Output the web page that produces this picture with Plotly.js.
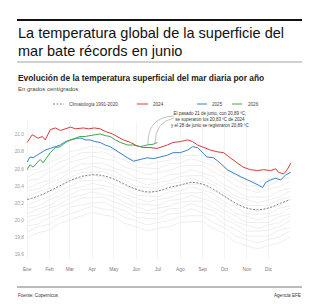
<!DOCTYPE html>
<html><head><meta charset="utf-8">
<script src="https://cdn.plot.ly/plotly-3.0.1.min.js"></script>
<style>html,body{margin:0;padding:0;background:#fff;}#chart{width:320px;height:304px;}</style>
</head><body><div id="chart"></div>
<script>
// ---- data ----
const monthLabels = ["Ene","Feb","Mar","Apr","May","Jun","Jul","Ago","Sep","Oct","Nov","Dic"];
const monthDays = [0,31,59,90,120,151,181,212,243,273,304,334];
const yTicks = [19.6,19.8,20.0,20.2,20.4,20.6,20.8,21.0];

const climDays = [0,15,31,45,59,75,90,105,120,135,151,166,181,196,212,227,243,258,273,288,304,319,334,349,364];
const climVals = [20.24,20.28,20.34,20.40,20.46,20.51,20.53,20.52,20.48,20.42,20.36,20.33,20.34,20.38,20.41,20.44,20.42,20.36,20.28,20.20,20.14,20.12,20.14,20.19,20.24];

const days2024 = [0,7,11,15,21,25,32,39,46,53,60,67,73,78,85,93,101,108,118,125,133,143,152,161,170,180,184,194,202,212,222,229,236,244,254,263,272,281,291,299,309,319,327,337,344,348,355,360,365];
const vals2024 = [20.91,21.00,20.98,20.96,20.98,20.94,21.06,21.08,21.05,21.07,21.09,21.07,21.08,21.08,21.07,21.08,21.07,21.04,21.01,20.98,20.94,20.91,20.87,20.85,20.85,20.84,20.85,20.88,20.91,20.92,20.94,20.92,20.88,20.85,20.82,20.80,20.79,20.73,20.67,20.62,20.59,20.58,20.59,20.58,20.60,20.56,20.54,20.59,20.67];

const days2025 = [0,4,8,14,18,25,32,39,46,53,60,69,76,80,87,94,101,108,115,122,129,139,147,157,166,175,184,194,202,212,222,229,236,243,249,258,267,277,285,295,305,313,320,326,330,337,344,351,358,365];
const vals2025 = [20.68,20.74,20.73,20.76,20.79,20.82,20.84,20.86,20.88,20.92,20.94,20.96,20.96,20.94,20.94,20.92,20.91,20.88,20.86,20.82,20.79,20.73,20.69,20.71,20.73,20.72,20.74,20.76,20.79,20.79,20.82,20.86,20.85,20.79,20.74,20.73,20.67,20.59,20.55,20.51,20.47,20.44,20.41,20.38,20.44,20.47,20.49,20.47,20.53,20.56];

const days2026 = [0,4,8,14,18,22,28,32,39,46,53,60,67,73,80,87,94,101,108,115,122,129,139,147,157,166,175,180];
const vals2026 = [20.59,20.65,20.62,20.67,20.71,20.67,20.74,20.79,20.85,20.86,20.91,20.94,20.96,20.98,20.98,20.99,21.00,21.01,20.99,20.98,20.94,20.91,20.88,20.88,20.86,20.88,20.89,20.91];

// past years (faint background lines), semi-monthly values on climDays
const pastYears = [
  [19.79,19.85,19.88,19.96,20.00,20.05,20.09,20.06,20.04,19.96,19.92,19.87,19.90,19.92,19.97,19.98,19.98,19.90,19.84,19.74,19.70,19.66,19.70,19.73,19.80],
  [19.86,19.92,19.95,20.03,20.07,20.12,20.16,20.13,20.11,20.03,19.99,19.94,19.97,19.99,20.04,20.05,20.05,19.97,19.91,19.81,19.77,19.73,19.77,19.80,19.87],
  [19.93,19.95,20.03,20.06,20.15,20.18,20.20,20.21,20.15,20.11,20.03,20.02,20.01,20.07,20.08,20.13,20.09,20.05,19.95,19.89,19.81,19.81,19.81,19.88,19.91],
  [19.97,20.03,20.07,20.15,20.19,20.26,20.26,20.27,20.21,20.17,20.09,20.08,20.07,20.13,20.14,20.19,20.15,20.11,20.01,19.95,19.87,19.87,19.88,19.92,19.99],
  [20.04,20.06,20.14,20.18,20.26,20.29,20.33,20.30,20.28,20.20,20.16,20.11,20.14,20.16,20.21,20.22,20.22,20.14,20.08,19.98,19.94,19.90,19.94,19.97,20.04],
  [20.07,20.13,20.17,20.25,20.29,20.36,20.36,20.37,20.31,20.27,20.19,20.18,20.17,20.23,20.24,20.29,20.25,20.21,20.11,20.05,19.97,19.97,19.97,20.04,20.07],
  [20.14,20.16,20.24,20.28,20.36,20.39,20.43,20.40,20.38,20.30,20.26,20.21,20.24,20.26,20.31,20.32,20.32,20.24,20.18,20.08,20.04,20.00,20.04,20.07,20.14],
  [20.17,20.23,20.27,20.35,20.39,20.46,20.46,20.47,20.41,20.37,20.29,20.28,20.27,20.33,20.34,20.39,20.35,20.31,20.21,20.15,20.07,20.07,20.07,20.14,20.17],
  [20.24,20.26,20.34,20.38,20.46,20.49,20.53,20.50,20.48,20.40,20.36,20.31,20.34,20.36,20.41,20.42,20.42,20.34,20.28,20.18,20.14,20.10,20.14,20.17,20.24],
  [20.27,20.33,20.37,20.45,20.49,20.56,20.56,20.57,20.51,20.47,20.39,20.38,20.37,20.43,20.44,20.49,20.45,20.41,20.31,20.25,20.17,20.17,20.17,20.24,20.27],
  [20.34,20.36,20.44,20.48,20.56,20.59,20.63,20.60,20.58,20.50,20.46,20.41,20.44,20.46,20.51,20.52,20.52,20.44,20.38,20.28,20.24,20.20,20.24,20.27,20.34],
  [20.37,20.43,20.47,20.55,20.59,20.66,20.66,20.67,20.61,20.57,20.49,20.48,20.47,20.53,20.54,20.59,20.55,20.51,20.41,20.35,20.27,20.27,20.27,20.34,20.37],
  [20.46,20.48,20.56,20.60,20.68,20.71,20.75,20.72,20.70,20.62,20.58,20.53,20.56,20.58,20.63,20.64,20.64,20.56,20.50,20.40,20.36,20.32,20.36,20.39,20.46],
  [20.50,20.56,20.60,20.68,20.72,20.79,20.79,20.80,20.74,20.70,20.62,20.61,20.60,20.66,20.67,20.72,20.68,20.64,20.54,20.48,20.40,20.40,20.40,20.47,20.50],
  [20.58,20.60,20.68,20.72,20.80,20.83,20.87,20.84,20.82,20.74,20.70,20.65,20.68,20.70,20.75,20.76,20.76,20.68,20.62,20.52,20.48,20.44,20.48,20.51,20.58]
];

// ---- layout helpers (pixel -> paper) ----
const W=320,H=304,L=25,R=27,T=122,B=44;
const PW=W-L-R, PH=H-T-B;
const px = v => (v-L)/PW;
const py = v => (H-B-v)/PH;

const FONT = "Liberation Sans, Arial, sans-serif";
const traces = [];
pastYears.forEach(vals => traces.push({x:climDays,y:vals,type:'scatter',mode:'lines',line:{color:'#e3e3e3',width:0.6},hoverinfo:'skip',showlegend:false}));
traces.push({x:climDays,y:climVals,type:'scatter',mode:'lines',line:{color:'#666',width:0.8,dash:'2px,1.5px',shape:'spline'},showlegend:false});
traces.push({x:days2024,y:vals2024,type:'scatter',mode:'lines',line:{color:'#d93b3b',width:1},showlegend:false});
traces.push({x:days2025,y:vals2025,type:'scatter',mode:'lines',line:{color:'#3d7fc9',width:1},showlegend:false});
traces.push({x:days2026,y:vals2026,type:'scatter',mode:'lines',line:{color:'#3aaa48',width:1},showlegend:false});

const ann = (x,y,text,size,opts={}) => Object.assign({xref:'paper',yref:'paper',x:px(x),y:py(y),text:text,showarrow:false,xanchor:'left',yanchor:'middle',font:{family:FONT,size:size,color:'#222'}},opts);

const annotations = [
  ann(16,33,"La temperatura global de la superficie del",14.5,{font:{family:FONT,size:14.5,color:'#111'}}),
  ann(16,51,"mar bate récords en junio",14.5,{font:{family:FONT,size:14.5,color:'#111'}}),
  ann(16,78,"<b>Evolución de la temperatura superficial del mar diaria por año</b>",8.4,{font:{family:FONT,size:8.4,color:'#222'}}),
  ann(16,89,"En grados centígrados",6,{font:{family:FONT,size:6,color:'#444'}}),
  ann(67,104,"Climatología 1991-2020",4.6,{font:{family:FONT,size:4.6,color:'#444'}}),
  ann(151,104,"2024",4.6,{font:{family:FONT,size:4.6,color:'#444'}}),
  ann(210,104,"2025",4.6,{font:{family:FONT,size:4.6,color:'#444'}}),
  ann(246,104,"2026",4.6,{font:{family:FONT,size:4.6,color:'#444'}}),
  ann(210,120,"El pasado 21 de junio, con 20,89 ºC,<br>se superaron los 20,83 ºC de 2024<br>y el 28 de junio se registraron 20,89 ºC",4.5,{xanchor:'center',align:'center',font:{family:FONT,size:4.5,color:'#333'}}),
  ann(16,295,"Fuente: Copernicus",4.6,{font:{family:FONT,size:4.6,color:'#333'}}),
  ann(303,295,"Agencia EFE",4.6,{xanchor:'right',font:{family:FONT,size:4.6,color:'#333'}})
];

const P = (x,y) => px(x)+','+py(y);
const shapes = [
  {type:'line',xref:'paper',yref:'paper',x0:px(17),x1:px(302),y0:py(20),y1:py(20),line:{color:'#111',width:1.8}},
  {type:'line',xref:'paper',yref:'paper',x0:px(17),x1:px(302),y0:py(62),y1:py(62),line:{color:'#999',width:0.9}},
  {type:'line',xref:'paper',yref:'paper',x0:px(17),x1:px(302),y0:py(287),y1:py(287),line:{color:'#666',width:0.9}},
  {type:'line',xref:'paper',yref:'paper',x0:px(53),x1:px(64),y0:py(104),y1:py(104),line:{color:'#666',width:0.8,dash:'2px,1.5px'}},
  {type:'line',xref:'paper',yref:'paper',x0:px(137),x1:px(148),y0:py(104),y1:py(104),line:{color:'#d93b3b',width:1}},
  {type:'line',xref:'paper',yref:'paper',x0:px(197),x1:px(207),y0:py(104),y1:py(104),line:{color:'#3d7fc9',width:1}},
  {type:'line',xref:'paper',yref:'paper',x0:px(232),x1:px(242),y0:py(104),y1:py(104),line:{color:'#3aaa48',width:1}},
  {type:'path',xref:'paper',yref:'paper',path:'M'+P(174,116)+' Q'+P(147,117)+' '+P(148,145),line:{color:'#999',width:0.6}},
  {type:'path',xref:'paper',yref:'paper',path:'M'+P(174,118)+' Q'+P(155,122)+' '+P(155,143),line:{color:'#999',width:0.6}}
];

const layout = {
  width:W,height:H,margin:{l:L,r:R,t:T,b:B,pad:0},
  paper_bgcolor:'#fff',plot_bgcolor:'#fff',
  separators:',.',
  showlegend:false,
  xaxis:{range:[-3,368],tickvals:monthDays,ticktext:monthLabels,showgrid:true,gridcolor:'#ececec',gridwidth:0.6,zeroline:false,showline:false,ticks:'',ticklabelstandoff:5,tickfont:{family:FONT,size:4.8,color:'#777'},fixedrange:true},
  yaxis:{range:[19.53,21.15],tickvals:yTicks,tickformat:'.1f',showgrid:false,zeroline:false,showline:false,ticks:'',tickfont:{family:FONT,size:4.8,color:'#999'},fixedrange:true},
  annotations:annotations,shapes:shapes
};
Plotly.newPlot('chart',traces,layout,{displayModeBar:false,staticPlot:true});
</script></body></html>
